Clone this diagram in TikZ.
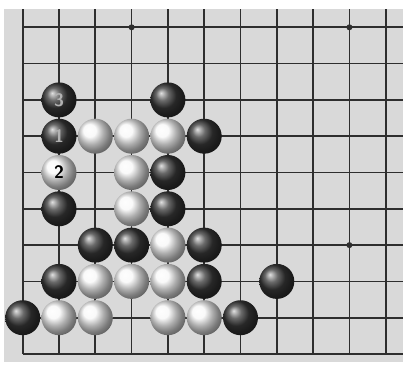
\documentclass[tikz,border=0pt]{standalone}
\usepackage{tikz}
\usetikzlibrary{positioning}
\definecolor{tablero}{rgb}{0.85,0.85,0.85}
\definecolor{raya}{rgb}{0.18,0.18,0.18}
\tikzset{
  piedra/.style={
    circle,
    minimum size=35pt,
    inner sep=0pt,
    font=\sffamily\bfseries\fontsize{18}{18}\selectfont
  },
  negra/.style={
    piedra,
    ball color=black!78,
    text=white!70!black
  },
  blanca/.style={
    piedra,
    ball color=white!97!black,
    text=black
  },
  linea/.style={
    raya,
    line width=1.7pt
  },
  hoshi/.style={
    circle,
    fill=raya,
    inner sep=0pt,
    minimum size=6pt
  }
}

\begin{document}
\begin{tikzpicture}[x=1pt,y=1pt]
\useasboundingbox (0,0) rectangle (403,367);
\fill[tablero] (4,5) rectangle (403,358);
\begin{scope}[shift={(22.7,13)},x=36.3pt,y=36.3pt]
% rejilla
\foreach \i in {0,...,10}
  \draw[linea] (\i,0) -- (\i,9.5);
\foreach \j in {0,...,9}
  \draw[linea] (0,\j) -- (10.5,\j);
\node[hoshi] (h1) at (3,9) {};
\node[hoshi] (h2) at (9,9) {};
\node[hoshi] (h3) at (9,3) {};
% piedras
\foreach \c/\r [count=\n] in {4/7,5/6,4/5,1/4,4/4,2/3,3/3,5/3,1/2,5/2,7/2,0/1,6/1}
  \node[negra] (b\n) at (\c,\r) {};
\foreach \c/\r [count=\n] in {2/6,3/6,4/6,3/5,3/4,4/3,2/2,3/2,4/2,1/1,2/1,4/1,5/1}
  \node[blanca] (w\n) at (\c,\r) {};
\node[negra] (m1) at (1,6) {1};
\node[blanca] (m2) at (1,5) {2};
\node[negra] (m3) at (1,7) {3};
\end{scope}
\end{tikzpicture}
\end{document}
